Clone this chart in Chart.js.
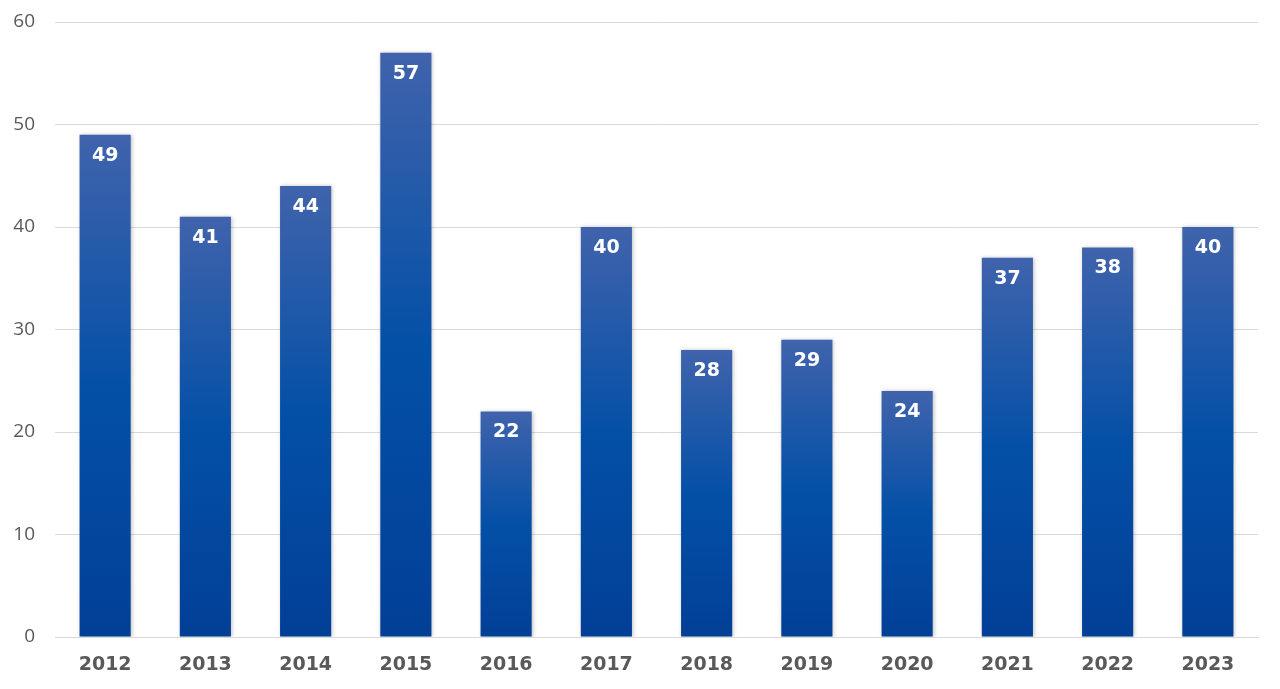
<!DOCTYPE html>
<html>
<head>
<meta charset="utf-8">
<script src="https://cdn.jsdelivr.net/npm/chart.js@4"></script>
<style>
  html, body { margin: 0; padding: 0; background: #fff; }
  #wrap { width: 1280px; height: 689px; }
</style>
</head>
<body>
<div id="wrap"><canvas id="myChart"></canvas></div>
<script>
// datos de la grafica
var years = ['2012','2013','2014','2015','2016','2017','2018','2019','2020','2021','2022','2023'];
var valores = [49, 41, 44, 57, 22, 40, 28, 29, 24, 37, 38, 40];
var yTicks = [0, 10, 20, 30, 40, 50, 60];

// degradado de cada barra, de su tope a la base
function degradado(context){
    var chart = context.chart;
    if (!chart.chartArea || !chart.scales.y) return '#0450a6';
    var y = chart.scales.y;
    var top = y.getPixelForValue(context.raw);
    var base = y.getPixelForValue(0);
    var g = chart.ctx.createLinearGradient(0, top, 0, base);
    g.addColorStop(0, '#4063ac');
    g.addColorStop(0.5, '#0450a7');
    g.addColorStop(1, '#023f97');
    return g;
}

// etiquetas blancas dentro de cada barra
var etiquetas = {
    id: 'etiquetas',
    afterDatasetsDraw: function(chart){
        var ctx = chart.ctx;
        var meta = chart.getDatasetMeta(0);
        ctx.save();
        ctx.fillStyle = '#ffffff';
        ctx.font = 'bold 19px "DejaVu Sans", Verdana, sans-serif';
        ctx.textAlign = 'center';
        ctx.textBaseline = 'middle';
        meta.data.forEach(function(bar, i){
            ctx.fillText(valores[i], bar.x, bar.y + 21);
        });
        ctx.restore();
    }
};

// sombra suave de las barras
var sombra = {
    id: 'sombra',
    beforeDatasetsDraw: function(chart){
        chart.ctx.save();
        chart.ctx.shadowColor = 'rgba(0,0,0,0.25)';
        chart.ctx.shadowBlur = 4;
        chart.ctx.shadowOffsetX = 1;
    },
    afterDatasetsDraw: function(chart){
        chart.ctx.restore();
    }
};

var ctx = document.getElementById('myChart').getContext('2d');
var chart = new Chart(ctx, {
    type: 'bar',
    data: {
        labels: years,
        datasets: [{
            data: valores,
            backgroundColor: degradado,
            borderWidth: 0,
            categoryPercentage: 1,
            barPercentage: 0.51
        }]
    },
    options: {
        responsive: true,
        maintainAspectRatio: false,
        animation: false,
        layout: { padding: { top: 22, right: 22, left: 0, bottom: 0 } },
        plugins: {
            legend: { display: false },
            tooltip: { enabled: false }
        },
        scales: {
            x: {
                grid: { display: false, drawTicks: false },
                border: { display: true, color: '#d9d9d9', width: 1 },
                ticks: {
                    color: '#595959',
                    padding: 17,
                    font: { family: '"DejaVu Sans", Verdana, sans-serif', size: 19, weight: 'bold' }
                },
                afterFit: function(scale){ scale.height = 52; }
            },
            y: {
                min: 0,
                max: 60,
                afterBuildTicks: function(scale){
                    scale.ticks = yTicks.map(function(v){ return { value: v }; });
                },
                // el hueco entre numeros y rejilla va como tickLength invisible
                grid: { color: '#d9d9d9', drawTicks: true, tickLength: 20, tickColor: 'rgba(0,0,0,0)' },
                border: { display: false },
                ticks: {
                    color: '#595959',
                    padding: 0,
                    font: { family: '"Open Sans", sans-serif', size: 19 }
                },
                afterFit: function(scale){ scale.width = 55; }
            }
        }
    },
    plugins: [sombra, etiquetas]
});
</script>
</body>
</html>
